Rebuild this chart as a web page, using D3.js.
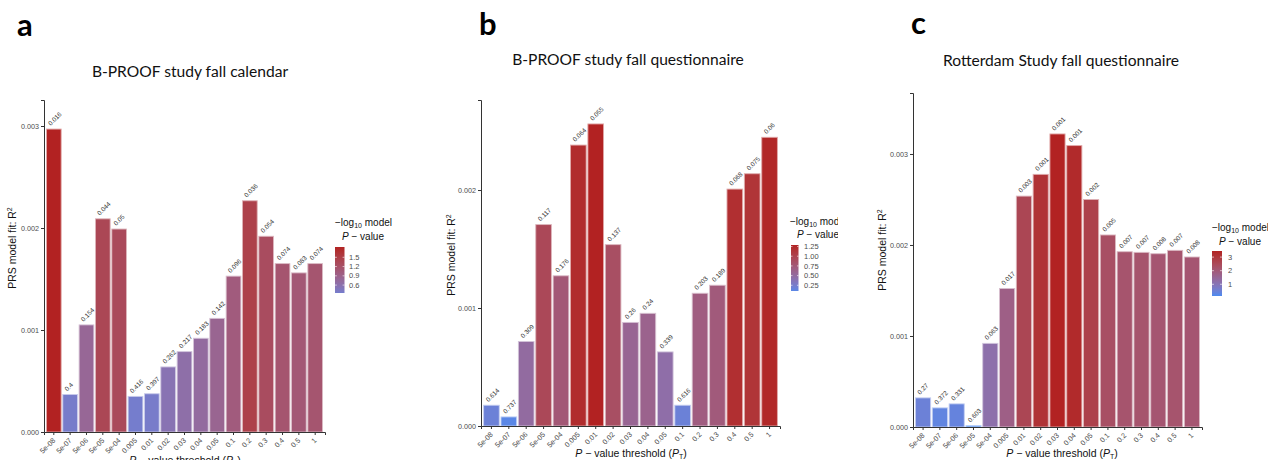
<!DOCTYPE html>
<html><head><meta charset="utf-8">
<script src="https://cdn.jsdelivr.net/npm/d3@7"></script>
<style>body{margin:0;background:#fff}svg{display:block}</style>
</head><body><svg id="chart" width="1268" height="460"></svg>
<script>
// ---- data ----
const thresholds = ["5e-08","5e-07","5e-06","5e-05","5e-04","0.005","0.01","0.02","0.03","0.04","0.05","0.1","0.2","0.3","0.4","0.5","1"];

const r2A = [0.00297,0.000368,0.00105,0.00209,0.00199,0.000349,0.000375,0.000638,0.000788,0.000919,0.001114,0.001528,0.002267,0.001919,0.001651,0.00156,0.001651];
const pA  = [0.016,0.4,0.154,0.044,0.05,0.416,0.397,0.262,0.217,0.183,0.142,0.096,0.036,0.054,0.074,0.083,0.074];
const labelsA = pA.map(String);

const r2B = [0.000176,0.000077,0.000716,0.001707,0.001273,0.002381,0.00256,0.001537,0.000878,0.000955,0.000628,0.000176,0.001125,0.001193,0.002008,0.002138,0.002447];
const pB  = [0.614,0.737,0.309,0.117,0.176,0.064,0.055,0.137,0.26,0.24,0.339,0.616,0.203,0.189,0.068,0.075,0.06];
const labelsB = pB.map(String);

const r2C = [0.00032,0.00021,0.000254,0.000015,0.000919,0.001522,0.002537,0.002776,0.00322,0.003092,0.0025,0.00211,0.001926,0.001919,0.001904,0.001941,0.001868];
const pC  = [0.27,0.372,0.331,0.603,0.063,0.017,0.0028,0.0009,0.00043,0.0006,0.002,0.005,0.007,0.007,0.008,0.007,0.008];
const labelsC = ["0.27","0.372","0.331","0.603","0.063","0.017","0.003","0.001","0.001","0.001","0.002","0.005","0.007","0.007","0.008","0.007","0.008"];

const yTicksA = [0, 0.001, 0.002, 0.003];
const yTicksB = [0, 0.001, 0.002];
const yTicksC = [0, 0.001, 0.002, 0.003];
const legendTicksA = [0.6, 0.9, 1.2, 1.5];
const legendTicksB = [0.25, 0.5, 0.75, 1.0, 1.25];
const legendTicksC = [1, 2, 3];

// ---- layout ----
const panels = [
  {letter:"a", lx:17, ly:36, title:"B-PROOF study fall calendar", tx:190, ty:77,
   r2:r2A, p:pA, labels:labelsA, yMax:0.003255, yTicks:yTicksA, lt:legendTicksA, lfmt:d3.format(".1f"),
   x0:44, x1:325, y0:432, y1:100, ytx:16, yty:248, xtx:185, xty:464,
   leg:{tx:335, ty1:226, ty2:240, t2x:363, bx:335, bw:9.5, by0:293, by1:247, lbx:349}, clip:null},
  {letter:"b", lx:479, ly:35, title:"B-PROOF study fall questionnaire", tx:628, ty:65,
   r2:r2B, p:pB, labels:labelsB, yMax:0.002763, yTicks:yTicksB, lt:legendTicksB, lfmt:d3.format(".2f"),
   x0:481, x1:780, y0:426, y1:100, ytx:455, yty:255, xtx:631, xty:457,
   leg:{tx:790, ty1:225, ty2:238, t2x:818, bx:791, bw:7.5, by0:291, by1:245, lbx:804}, clip:838},
  {letter:"c", lx:911, ly:34, title:"Rotterdam Study fall questionnaire", tx:1061, ty:66,
   r2:r2C, p:pC, labels:labelsC, yMax:0.00367, yTicks:yTicksC, lt:legendTicksC, lfmt:d3.format("d"),
   x0:913, x1:1202, y0:427, y1:93, ytx:886, yty:250, xtx:1062, xty:457,
   leg:{tx:1212, ty1:231, ty2:245, t2x:1240, bx:1212, bw:10, by0:296, by1:251, lbx:1228}, clip:null}
];

const svg = d3.select("#chart");
svg.append("rect").attr("width",1268).attr("height",460).attr("fill","#fff");
const font = "'Liberation Sans', Arial, Helvetica, sans-serif";
const defs = svg.append("defs");

panels.forEach((P, pi) => {
  const g = svg.append("g");
  if (P.clip) {
    defs.append("clipPath").attr("id","clip"+pi).append("rect")
      .attr("x",0).attr("y",0).attr("width",P.clip).attr("height",460);
    g.attr("clip-path","url(#clip"+pi+")");
  }
  // letter and title
  svg.append("text").attr("x",P.lx).attr("y",P.ly).text(P.letter)
    .attr("font-family","Lato, 'Open Sans', sans-serif").attr("font-weight","bold")
    .attr("font-size",31).attr("fill","#000");
  svg.append("text").attr("x",P.tx).attr("y",P.ty).text(P.title)
    .attr("text-anchor","middle").attr("font-family","Lato, 'Open Sans', sans-serif")
    .attr("font-size",15.6).attr("fill","#111");

  const v = P.p.map(d => -Math.log10(d));
  const vmax = d3.max(v), vmin = d3.min(v);
  const ramp = d3.interpolateLab("dodgerblue","firebrick");
  const col = val => ramp(val / vmax);

  const x = d3.scaleBand().domain(thresholds).range([P.x0, P.x1]).paddingInner(0.1).paddingOuter(0.15);
  const y = d3.scaleLinear().domain([0, P.yMax]).range([P.y0, P.y1]);

  // bars
  g.selectAll("rect.bar").data(thresholds).enter().append("rect")
    .attr("class","bar")
    .attr("x", d => x(d)).attr("width", x.bandwidth())
    .attr("y", (d,i) => y(P.r2[i])).attr("height", (d,i) => y(0) - y(P.r2[i]))
    .attr("fill", (d,i) => col(v[i]))
    .attr("stroke", (d,i) => d3.interpolateRgb(col(v[i]), "#fff")(0.6))
    .attr("stroke-width", 0.9);

  // bar labels
  g.selectAll("text.bl").data(thresholds).enter().append("text")
    .attr("class","bl")
    .attr("transform", (d,i) => `translate(${x(d)+x.bandwidth()/2-3},${y(P.r2[i])-3}) rotate(-45)`)
    .attr("font-family", font).attr("font-size", 6.4).attr("fill","#333")
    .text((d,i) => P.labels[i]);

  // y axis
  const yAxis = d3.axisLeft(y).tickValues(P.yTicks).tickFormat(d3.format(".3f")).tickSizeOuter(0).tickSize(3).tickPadding(2);
  const ya = g.append("g").attr("transform",`translate(${P.x0},0)`).call(yAxis);
  ya.select(".domain").attr("stroke","#333").attr("stroke-width",1);
  ya.selectAll(".tick line").attr("stroke","#333");
  ya.selectAll(".tick text").attr("font-family",font).attr("font-size",7.2).attr("fill","#4d4d4d");

  // x axis
  const xAxis = d3.axisBottom(x).tickSizeOuter(0).tickSize(3);
  const xa = g.append("g").attr("transform",`translate(0,${P.y0})`).call(xAxis);
  xa.select(".domain").attr("stroke","#333").attr("stroke-width",1);
  xa.selectAll(".tick line").attr("stroke","#333");
  xa.selectAll(".tick text").attr("font-family",font).attr("font-size",7.2).attr("fill","#4d4d4d")
    .attr("text-anchor","end").attr("dy",0).attr("y",0)
    .attr("transform","translate(2,9) rotate(-45)");

  // y title
  const yt = g.append("text").attr("transform",`translate(${P.ytx},${P.yty}) rotate(-90)`)
    .attr("text-anchor","middle").attr("font-family",font).attr("font-size",10.5).attr("fill","#111");
  yt.append("tspan").text("PRS model fit:  R");
  yt.append("tspan").text("2").attr("font-size",7).attr("dy",-4);

  // x title
  const xt = g.append("text").attr("x",P.xtx).attr("y",P.xty)
    .attr("text-anchor","middle").attr("font-family",font).attr("font-size",10.5).attr("fill","#111");
  xt.append("tspan").text("P").attr("font-style","italic");
  xt.append("tspan").text(" \u2212 value threshold (");
  xt.append("tspan").text("P").attr("font-style","italic");
  xt.append("tspan").text("T").attr("font-size",7).attr("dy",2);
  xt.append("tspan").text(")").attr("dy",-2);

  // legend
  const L = P.leg;
  const lt1 = g.append("text").attr("x",L.tx).attr("y",L.ty1)
    .attr("font-family",font).attr("font-size",10).attr("fill","#111");
  lt1.append("tspan").text("\u2212log");
  lt1.append("tspan").text("10").attr("font-size",7).attr("dy",2);
  lt1.append("tspan").text(" model").attr("dy",-2);
  const lt2 = g.append("text").attr("x",L.t2x).attr("y",L.ty2).attr("text-anchor","middle")
    .attr("font-family",font).attr("font-size",10).attr("fill","#111");
  lt2.append("tspan").text("P").attr("font-style","italic");
  lt2.append("tspan").text(" \u2212 value");

  const gid = "lg"+pi;
  const grad = defs.append("linearGradient").attr("id",gid).attr("x1",0).attr("y1",1).attr("x2",0).attr("y2",0);
  d3.range(0,1.0001,0.05).forEach(t => {
    grad.append("stop").attr("offset",t).attr("stop-color", col(vmin + t*(vmax-vmin)));
  });
  g.append("rect").attr("x",L.bx).attr("y",L.by1).attr("width",L.bw).attr("height",L.by0-L.by1)
    .attr("fill",`url(#${gid})`);
  const h = L.by0 - L.by1;
  const ls = d3.scaleLinear().domain([vmin, vmax]).range([L.by0 - h*0.025, L.by1 + h*0.025]);
  P.lt.forEach(t => {
    const yy = ls(t);
    g.append("line").attr("x1",L.bx).attr("x2",L.bx+L.bw*0.2).attr("y1",yy).attr("y2",yy).attr("stroke","#fff").attr("stroke-width",0.6);
    g.append("line").attr("x1",L.bx+L.bw*0.8).attr("x2",L.bx+L.bw).attr("y1",yy).attr("y2",yy).attr("stroke","#fff").attr("stroke-width",0.6);
    g.append("text").attr("x",L.lbx).attr("y",yy).attr("dy","0.35em")
      .attr("font-family",font).attr("font-size",7.5).attr("fill","#4d4d4d").text(P.lfmt(t));
  });
});
</script>
</body></html>
